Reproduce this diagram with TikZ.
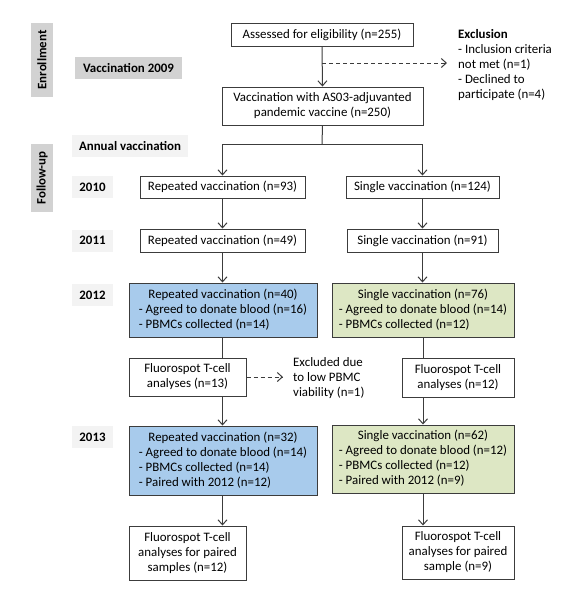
\documentclass[tikz,border=0pt]{standalone}
\usepackage{fontspec}
\setmainfont{Carlito}
\usetikzlibrary{arrows.meta}
\definecolor{lineC}{HTML}{3C3C3C}
\definecolor{blueF}{HTML}{A8CBEC}
\definecolor{greenF}{HTML}{DDE7C4}
\definecolor{grayF}{HTML}{D2D2D2}
\definecolor{lightF}{HTML}{F3F3F3}
\tikzset{
  box/.style={draw=lineC, line width=1pt, rectangle, inner sep=0pt, align=center, font=\fontsize{12.9}{15}\selectfont},
  bar/.style={fill=grayF, rectangle, inner sep=0pt, font=\fontsize{12.9}{15}\selectfont\bfseries},
  lbl/.style={fill=lightF, rectangle, inner sep=0pt, font=\fontsize{12.9}{15}\selectfont\bfseries},
  plain/.style={inner sep=0pt, align=left, font=\fontsize{12.9}{15}\selectfont},
  conn/.style={draw=lineC, line width=1pt},
  arr/.style={conn, -{Straight Barb[length=5pt,width=9pt]}},
  darr/.style={arr, dashed, dash pattern=on 4pt off 3pt},
}
\newcommand{\bl}[2]{\begin{tabular}{@{}l@{}}\multicolumn{1}{@{}c@{}}{#1}\\#2\end{tabular}}
\begin{document}
\begin{tikzpicture}[x=1pt,y=-1pt]
\useasboundingbox (0,0) rectangle (587,603);
% side bars
\node[bar, minimum width=22pt, minimum height=74pt] (enr) at (42,60) {};
\node[rotate=90, font=\fontsize{12.9}{15}\selectfont\bfseries] (enrt) at (enr.center) {Enrollment};
\node[bar, minimum width=22pt, minimum height=68pt] (fu) at (42,178) {};
\node[rotate=90, font=\fontsize{12.9}{15}\selectfont\bfseries] (fut) at (fu.center) {Follow-up};
% left labels
\node[bar, minimum width=107pt, minimum height=22pt] (v09) at (128.5,68) {Vaccination 2009};
\node[lbl, minimum width=116pt, minimum height=22pt] (ann) at (130,146) {Annual vaccination};
\node[lbl, minimum width=41pt, minimum height=22pt] (y10) at (92.5,187) {2010};
\node[lbl, minimum width=41pt, minimum height=22pt] (y11) at (92.5,240.5) {2011};
\node[lbl, minimum width=41pt, minimum height=22pt] (y12) at (92.5,295) {2012};
\node[lbl, minimum width=41pt, minimum height=22pt] (y13) at (92.5,437) {2013};
% main boxes
\node[box, minimum width=182pt, minimum height=23pt] (ass) at (322,34.5) {Assessed for eligibility (n=255)};
\node[box, minimum width=201pt, minimum height=38pt] (vac) at (322.5,106) {Vaccination with AS03-adjuvanted\\pandemic vaccine (n=250)};
\node[plain, anchor=north west] (exc) at (458,29) {\textbf{Exclusion}\\- Inclusion criteria\\not met (n=1)\\- Declined to\\participate (n=4)};
\node[box, minimum width=165pt, minimum height=22pt] (r93) at (222.5,187) {Repeated vaccination (n=93)};
\node[box, minimum width=153pt, minimum height=22pt] (s124) at (422.5,187) {Single vaccination (n=124)};
\node[box, minimum width=165pt, minimum height=23pt] (r49) at (222.5,240.5) {Repeated vaccination (n=49)};
\node[box, minimum width=151pt, minimum height=23pt] (s91) at (422.5,240.5) {Single vaccination (n=91)};
\node[box, fill=blueF, minimum width=188pt, minimum height=54pt] (b12) at (223,310) {\bl{Repeated vaccination (n=40)}{- Agreed to donate blood (n=16)\\- PBMCs collected (n=14)}};
\node[box, fill=greenF, minimum width=182pt, minimum height=54pt] (g12) at (423,310) {\bl{Single vaccination (n=76)}{- Agreed to donate blood (n=14)\\- PBMCs collected (n=12)}};
\node[box, minimum width=117pt, minimum height=38pt] (f13) at (187.5,377) {Fluorospot T-cell\\analyses (n=13)};
\node[box, minimum width=112pt, minimum height=39pt] (f12) at (458,377.5) {Fluorospot T-cell\\analyses (n=12)};
\node[plain, anchor=west] (exv) at (293,378.5) {Excluded due\\to low PBMC\\viability (n=1)};
\node[box, fill=blueF, minimum width=188pt, minimum height=69pt] (b13) at (223,460.5) {\bl{Repeated vaccination (n=32)}{- Agreed to donate blood (n=14)\\- PBMCs collected (n=14)\\- Paired with 2012 (n=12)}};
\node[box, fill=greenF, minimum width=182pt, minimum height=68pt] (g13) at (423,459) {\bl{Single vaccination (n=62)}{- Agreed to donate blood (n=12)\\- PBMCs collected (n=12)\\- Paired with 2012 (n=9)}};
\node[box, minimum width=117pt, minimum height=54pt] (fp12) at (187.5,553) {Fluorospot T-cell\\analyses for paired\\samples (n=12)};
\node[box, minimum width=112pt, minimum height=53pt] (fp9) at (458,552.5) {Fluorospot T-cell\\analyses for paired\\sample (n=9)};
% coordinates
\coordinate (exA) at (322,63);
\coordinate (exB) at (447,63);
\coordinate (spl) at (322,144);
\coordinate (exC) at (283,377);
% connectors
\draw[arr] (ass.south) -- (vac.north);
\draw[darr] (exA) -- (exB);
\draw[conn] (vac.south) -- (spl);
\draw[arr] (spl) -| (r93.north);
\draw[arr] (spl) -| (s124.north);
\draw[arr] (r93) -- (r49);
\draw[arr] (s124) -- (s91);
\draw[arr] (r49.south) -- (r49.south |- b12.north);
\draw[arr] (s91.south) -- (s91.south |- g12.north);
\draw[conn] (b12.south -| r49.south) -- (f13.north -| r49.south);
\draw[conn] (g12.south) -- (f12.north -| g12.south);
\draw[arr] (f13.south -| r49.south) -- (b13.north -| r49.south);
\draw[arr] (f12.south -| g12.south) -- (g13.north);
\draw[darr] (f13.east) -- (exC);
\draw[arr] (b13.south -| r49.south) -- (fp12.north -| r49.south);
\draw[arr] (g13.south) -- (fp9.north -| g13.south);
\end{tikzpicture}
\end{document}
